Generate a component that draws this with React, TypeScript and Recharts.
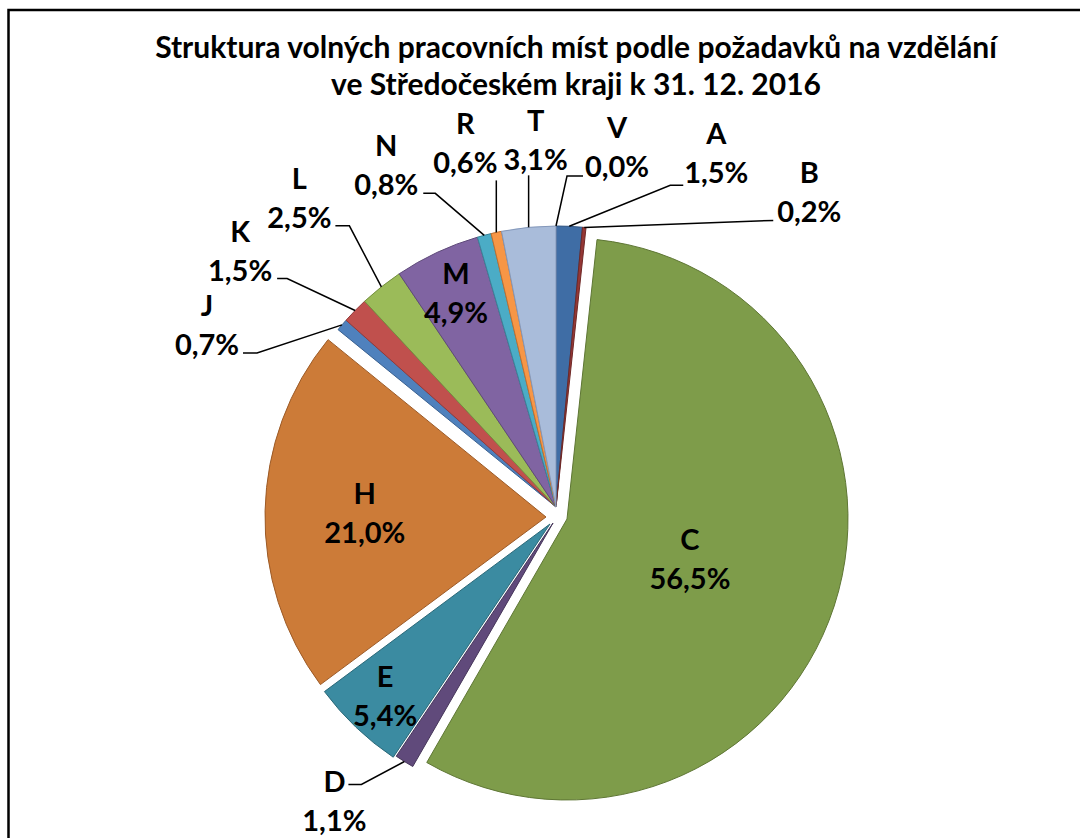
import React from 'react';
import { Cell, Pie, PieChart } from 'recharts';

const CATEGORIES = ['A', 'B', 'C', 'D', 'E', 'H', 'J', 'K', 'L', 'M', 'N', 'R', 'T', 'V'];
const SHARES = [1.5, 0.2, 56.5, 1.1, 5.4, 21.0, 0.7, 1.5, 2.5, 4.9, 0.8, 0.6, 3.1, 0.0];
const COLORS = ['#3F6DA5', '#953735', '#7E9C4A', '#604A7B', '#3B8BA1', '#CC7B38', '#4F81BD', '#C0504D', '#9BBB59', '#8064A2', '#4BACC6', '#F79646', '#A9BCDA', '#D6A49A'];
const STROKES = ['#2E5280', '#6E2826', '#5E7634', '#46365A', '#2B6878', '#9C5A26', '#3A6190', '#94393A', '#759040', '#5F4A7A', '#3A8399', '#C07030', '#8498BA', '#B48579'];
const TITLE_LINES = [
    'Struktura volných pracovních míst podle požadavků na vzdělání',
    've Středočeském kraji k 31. 12. 2016',
];

const data = CATEGORIES.map((name, i) => ({ name, value: SHARES[i] }));

const FONT = 'Lato, "Open Sans", sans-serif';
const CX = 556;
const CY = 507;
const R = 281;
const LINE_GAP = 39;
const CAP = 10;

// exploded slices: shift of the slice centre in px
const EXPLODE: Record<string, [number, number]> = { C: [11, 12], D: [-3, 16], E: [-6, 17], H: [-10, 10] };

// labels inside the slice sit at a fraction of the radius
const INSIDE: Record<string, number> = { C: 0.46, H: 0.645, E: 0.85, M: 0.84 };

// outside labels: knee / end of the leader and text block centre, relative to the arc midpoint
const OUTSIDE: Record<string, { knee: [number, number]; end: [number, number]; text: [number, number] }> = {
    A: { knee: [101, -41], end: [114, -41], text: [147, -73] },
    B: { knee: [189, -7], end: [189, -7], text: [225, -35] },
    V: { knee: [11, -50], end: [27, -50], text: [61, -79] },
    T: { knee: [0, -52], end: [0, -52], text: [7, -87] },
    R: { knee: [0, -52], end: [0, -52], text: [-31, -89] },
    N: { knee: [-49, -42], end: [-61, -42], text: [-98, -70] },
    L: { knee: [-32, -61], end: [-46, -61], text: [-82, -88] },
    K: { knee: [-68, -32], end: [-78, -32], text: [-115, -59] },
    J: { knee: [-85, 28], end: [-99, 28], text: [-135, 1] },
    D: { knee: [-43, 23], end: [-56, 23], text: [-70, 40] },
};

const TEXT_STYLE = { fontFamily: FONT, fontWeight: 700, fontSize: 29, fill: '#000' };

// eslint-disable-next-line @typescript-eslint/no-explicit-any
const renderLabel = (props: any) => {
    const { cx, cy, midAngle, outerRadius, index } = props;
    const name = CATEGORIES[index];
    const off = EXPLODE[name] ?? [0, 0];
    const ox = cx + off[0];
    const oy = cy + off[1];
    const rad = (-midAngle * Math.PI) / 180;
    const dx = Math.cos(rad);
    const dy = Math.sin(rad);
    const pct = SHARES[index].toFixed(1).replace('.', ',') + '%';

    let tx: number;
    let ty: number;
    let line = null;
    if (INSIDE[name] !== undefined) {
        tx = ox + dx * outerRadius * INSIDE[name];
        ty = oy + dy * outerRadius * INSIDE[name];
    } else {
        const o = OUTSIDE[name];
        const ax = ox + dx * outerRadius;
        const ay = oy + dy * outerRadius;
        tx = ax + o.text[0];
        ty = ay + o.text[1];
        const pts = [[ax, ay], [ax + o.knee[0], ay + o.knee[1]], [ax + o.end[0], ay + o.end[1]]];
        line = <polyline fill="none" points={pts.map((p) => p.join(',')).join(' ')} stroke="#000" strokeWidth={1.5} />;
    }

    return (
        <g key={`lbl-${name}`}>
            {line}
            <text style={TEXT_STYLE} textAnchor="middle" x={tx} y={ty - LINE_GAP / 2 + CAP}>{name}</text>
            <text style={TEXT_STYLE} textAnchor="middle" x={tx} y={ty + LINE_GAP / 2 + CAP}>{pct}</text>
        </g>
    );
};

const App: React.FC = () => {
    return (
        <div style={{ position: 'absolute', left: 0, top: 0, width: 1080, height: 838, background: '#fff' }}>
            <PieChart height={838} margin={{ top: 0, right: 0, bottom: 0, left: 0 }} width={1080}>
                <Pie
                    cx={CX}
                    cy={CY}
                    data={data}
                    dataKey="value"
                    endAngle={-270}
                    isAnimationActive={false}
                    label={renderLabel}
                    labelLine={false}
                    nameKey="name"
                    outerRadius={R}
                    startAngle={90}
                >
                    {data.map((d, i) => (
                        <Cell
                            fill={EXPLODE[d.name] ? 'none' : COLORS[i]}
                            key={d.name}
                            stroke={EXPLODE[d.name] ? 'none' : STROKES[i]}
                            strokeWidth={1}
                        />
                    ))}
                </Pie>
                {Object.keys(EXPLODE).map((target) => (
                    <Pie
                        cx={CX + EXPLODE[target][0]}
                        cy={CY + EXPLODE[target][1]}
                        data={data}
                        dataKey="value"
                        endAngle={-270}
                        isAnimationActive={false}
                        key={`ex-${target}`}
                        nameKey="name"
                        outerRadius={R}
                        startAngle={90}
                    >
                        {data.map((d, i) => (
                            <Cell
                                fill={d.name === target ? COLORS[i] : 'none'}
                                key={d.name}
                                stroke={d.name === target ? STROKES[i] : 'none'}
                                strokeWidth={1}
                            />
                        ))}
                    </Pie>
                ))}
            </PieChart>
            <svg height={838} style={{ position: 'absolute', left: 0, top: 0, pointerEvents: 'none' }} width={1080}>
                <path d="M8.5 838 V10 H1080" fill="none" stroke="#000" strokeWidth={2.5} />
                {TITLE_LINES.map((t, i) => (
                    <text
                        key={t}
                        style={{ fontFamily: FONT, fontWeight: 700, fontSize: 30, fill: '#000' }}
                        textAnchor="middle"
                        x={576}
                        y={58 + i * 37}
                    >
                        {t}
                    </text>
                ))}
            </svg>
        </div>
    );
};

export default App;
